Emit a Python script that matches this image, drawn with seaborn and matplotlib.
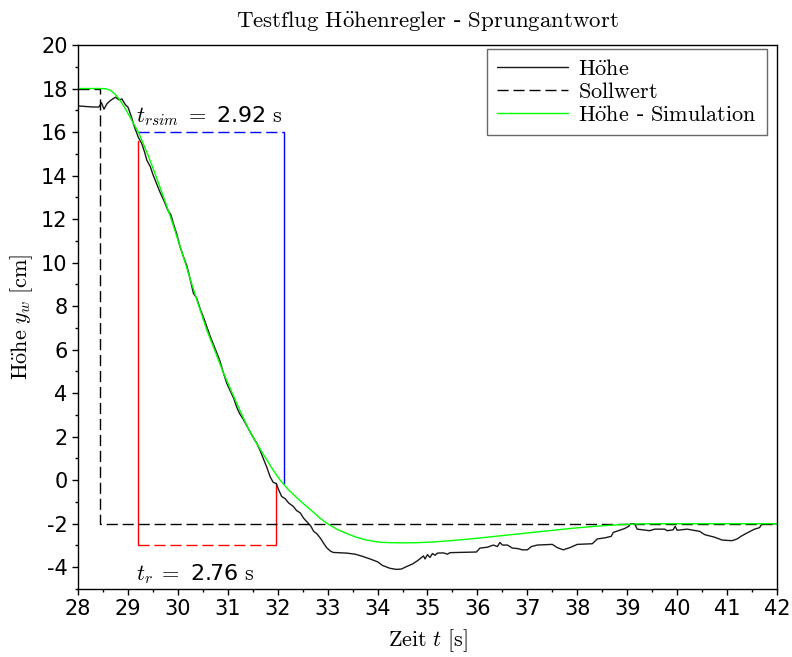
import numpy as np
import pandas as pd
import seaborn as sns
import matplotlib
matplotlib.use("Agg")
import matplotlib.pyplot as plt
from matplotlib.ticker import MultipleLocator

# --- data ---
# measured height (Höhe)
hoehe_t = [28.00, 28.30, 28.42, 28.47, 28.52, 28.58, 28.65, 28.75, 28.82, 28.88,
           28.95, 29.00, 29.07, 29.12, 29.16, 29.21, 29.28, 29.33, 29.38, 29.45,
           29.50, 29.58, 29.64, 29.72, 29.80, 29.86, 29.91, 29.98, 30.04, 30.10,
           30.18, 30.24, 30.31, 30.38, 30.45, 30.52, 30.58, 30.65, 30.72, 30.78,
           30.84, 30.91, 30.98, 31.05, 31.12, 31.18, 31.24, 31.31, 31.38, 31.44,
           31.50, 31.58, 31.65, 31.72, 31.78, 31.85, 31.91, 31.97, 32.02, 32.08,
           32.15, 32.22, 32.31, 32.38, 32.45, 32.52, 32.60, 32.66, 32.72, 32.78,
           32.85, 32.92, 32.98, 33.05, 33.11, 33.38, 33.55, 33.70, 33.85, 34.00,
           34.10, 34.25, 34.38, 34.48, 34.58, 34.70, 34.80, 34.88, 34.92, 34.95,
           35.00, 35.05, 35.10, 35.15, 35.20, 35.32, 35.40, 35.45, 35.98, 36.05,
           36.20, 36.32, 36.40, 36.45, 36.50, 36.60, 36.70, 36.80, 36.90, 37.00,
           37.08, 37.20, 37.50, 37.60, 37.72, 37.85, 38.00, 38.30, 38.40, 38.55,
           38.68, 38.72, 38.85, 38.95, 39.03, 39.07, 39.15, 39.20, 39.45, 39.55,
           39.75, 39.80, 39.92, 39.96, 40.00, 40.20, 40.45, 40.55, 40.75, 40.90,
           41.10, 41.20, 41.30, 41.42, 41.55, 41.65, 41.70, 42.00]
hoehe_y = [17.20, 17.15, 17.15, 17.35, 17.05, 17.30, 17.45, 17.60, 17.48, 17.52,
           17.25, 17.15, 16.70, 16.30, 16.05, 15.75, 15.45, 15.10, 14.70, 14.40,
           14.05, 13.60, 13.25, 12.85, 12.40, 12.20, 11.80, 11.30, 10.75, 10.35,
           9.85, 9.30, 8.60, 8.35, 7.85, 7.45, 7.05, 6.60, 6.20, 5.85,
           5.50, 4.95, 4.45, 4.10, 3.75, 3.35, 3.05, 2.80, 2.50, 2.25,
           2.00, 1.70, 1.35, 0.95, 0.60, 0.15, -0.10, -0.15, -0.45, -0.75,
           -0.85, -1.05, -1.20, -1.40, -1.50, -1.75, -1.95, -2.10, -2.35, -2.45,
           -2.65, -2.90, -3.10, -3.25, -3.32, -3.35, -3.40, -3.50, -3.62, -3.75,
           -3.92, -4.05, -4.10, -4.08, -3.97, -3.85, -3.70, -3.55, -3.48, -3.62,
           -3.42, -3.55, -3.37, -3.45, -3.35, -3.34, -3.40, -3.33, -3.30, -3.12,
           -3.08, -2.98, -3.05, -2.86, -2.98, -2.98, -3.12, -3.14, -3.20, -3.20,
           -3.05, -2.98, -2.95, -3.10, -3.20, -3.10, -2.95, -2.92, -2.70, -2.65,
           -2.58, -2.40, -2.30, -2.22, -2.12, -2.00, -2.00, -2.25, -2.32, -2.25,
           -2.25, -2.32, -2.28, -2.12, -2.30, -2.25, -2.35, -2.50, -2.62, -2.75,
           -2.78, -2.70, -2.55, -2.40, -2.25, -2.18, -2.00, -2.00]

# set point (Sollwert)
soll_t = [28.00, 28.45, 28.45, 42.00]
soll_y = [18.0, 18.0, -2.0, -2.0]

# simulated height (Höhe - Simulation)
sim_t = [28.00, 28.45, 28.55, 28.64, 28.74, 28.84, 28.94, 29.04, 29.12, 29.21,
         29.31, 29.40, 29.50, 29.58, 29.70, 29.80, 29.91, 30.00, 30.10, 30.24,
         30.40, 30.58, 30.75, 30.91, 31.08, 31.24, 31.40, 31.58, 31.75, 31.91,
         32.05, 32.20, 32.38, 32.55, 32.71, 32.85, 33.01, 33.20, 33.38, 33.55,
         33.72, 33.90, 34.05, 34.25, 34.50, 34.80, 35.10, 35.40, 35.90, 36.40,
         36.90, 37.40, 37.90, 38.40, 38.80, 39.06, 39.50, 42.00]
sim_y = [18.00, 18.00, 17.99, 17.93, 17.75, 17.47, 17.10, 16.70, 16.35, 16.00,
         15.45, 14.95, 14.35, 13.85, 13.10, 12.45, 11.70, 11.05, 10.35, 9.30,
         8.15, 6.90, 5.90, 4.95, 4.05, 3.22, 2.42, 1.69, 1.05, 0.46,
         0.00, -0.40, -0.80, -1.15, -1.46, -1.75, -2.02, -2.27, -2.45, -2.60,
         -2.72, -2.80, -2.85, -2.87, -2.88, -2.87, -2.84, -2.79, -2.69, -2.57,
         -2.45, -2.33, -2.21, -2.11, -2.05, -2.02, -2.00, -2.00]

# rise time markers
rise_start = 29.21
t_r = 2.76
t_rsim = 2.92
red_top, red_bottom, red_end_y = 15.6, -3.0, -0.12
blue_level, blue_end_y = 16.0, -0.15

df_hoehe = pd.DataFrame({"t": hoehe_t, "y": hoehe_y})
df_soll = pd.DataFrame({"t": soll_t, "y": soll_y})
df_sim = pd.DataFrame({"t": sim_t, "y": sim_y})

# --- plot ---
sns.set_style("ticks")
plt.rcParams["font.family"] = ["DejaVu Sans"]
plt.rcParams["mathtext.fontset"] = "cm"
plt.rcParams["axes.unicode_minus"] = False
for key in ["text.color", "axes.labelcolor", "xtick.color", "ytick.color",
            "axes.edgecolor"]:
    plt.rcParams[key] = "black"

fig = plt.figure(figsize=(7.92, 6.57), dpi=100)
ax = fig.add_axes([78 / 792, 1 - 589 / 657, 699 / 792, 544 / 657])

# rise time construction lines
r_end = rise_start + t_r
b_end = rise_start + t_rsim
ax.plot([rise_start, rise_start], [red_top, red_bottom], color="red", lw=1, zorder=1)
ax.plot([rise_start, r_end], [red_bottom, red_bottom], color="red", lw=1,
        dashes=(8, 3.5), zorder=1)
ax.plot([r_end, r_end], [red_bottom, red_end_y], color="red", lw=1, zorder=1)
ax.plot([rise_start, b_end], [blue_level, blue_level], color="blue", lw=1,
        dashes=(8, 3.5), zorder=1)
ax.plot([b_end, b_end], [blue_level, blue_end_y], color="blue", lw=1, zorder=1)

sns.lineplot(data=df_hoehe, x="t", y="y", ax=ax, color="#1a1a1a", lw=1,
             estimator=None, sort=False, label=r"$\mathrm{H\ddot{o}he}$")
sns.lineplot(data=df_soll, x="t", y="y", ax=ax, color="black", lw=1,
             estimator=None, sort=False, dashes=False,
             label=r"$\mathrm{Sollwert}$")
ax.lines[-1].set_dashes((8, 3.5))
sns.lineplot(data=df_sim, x="t", y="y", ax=ax, color="#00ff00", lw=1,
             estimator=None, sort=False,
             label=r"$\mathrm{H\ddot{o}he}$ - $\mathrm{Simulation}$")

ax.text(rise_start - 0.05, 16.75, r"$t_{rsim}\;=$ %.2f $\mathrm{s}$" % t_rsim,
        fontsize=16, va="center", ha="left")
ax.text(rise_start - 0.05, -4.3, r"$t_r\;=$ %.2f $\mathrm{s}$" % t_r,
        fontsize=16, va="center", ha="left")

ax.set_xlim(28, 42)
ax.set_ylim(-5, 20)
ax.xaxis.set_major_locator(MultipleLocator(1))
ax.xaxis.set_minor_locator(MultipleLocator(0.5))
ax.yaxis.set_major_locator(MultipleLocator(2))
ax.yaxis.set_minor_locator(MultipleLocator(1))
ax.tick_params(which="major", direction="out", length=4.5, width=1,
               labelsize=15, color="black", labelcolor="black", pad=3)
ax.tick_params(which="minor", direction="out", length=2.5, width=1, color="black")
for s in ax.spines.values():
    s.set_color("black")
    s.set_linewidth(1)

ax.set_title(r"$\mathrm{Testflug\ H\ddot{o}henregler}$ - $\mathrm{Sprungantwort}$",
             fontsize=16.5, pad=13, color="black")
ax.set_xlabel(r"$\mathrm{Zeit}\ t\ [\mathrm{s}]$", fontsize=16, labelpad=6)
ax.set_ylabel(r"$\mathrm{H\ddot{o}he}\ y_w\ [\mathrm{cm}]$", fontsize=16, labelpad=4)

leg = ax.legend(loc="upper right", bbox_to_anchor=(0.9857, 0.9926),
                borderaxespad=0, fontsize=16, frameon=True, fancybox=False,
                handlelength=3.2, handletextpad=0.45, labelspacing=0.14,
                borderpad=0.45)
leg.get_frame().set_edgecolor("#444444")
leg.get_frame().set_linewidth(1)
for txt in leg.get_texts():
    txt.set_color("black")

fig.savefig("out.png", dpi=100)
